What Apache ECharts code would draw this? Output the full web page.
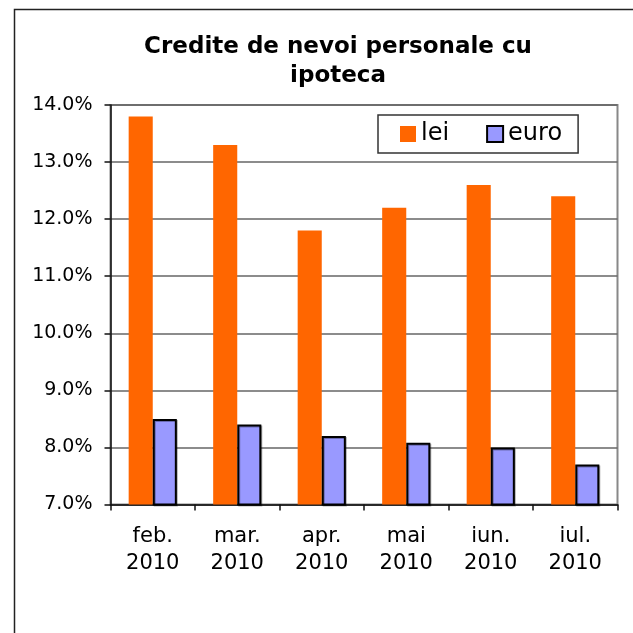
<!DOCTYPE html>
<html lang="ro">
<head>
    <meta charset="UTF-8">
    <title>Credite de nevoi personale cu ipoteca</title>
    <script src="https://cdn.jsdelivr.net/npm/echarts@6.0.0/dist/echarts.min.js"></script>
    <style>
        html, body { margin: 0; padding: 0; background: #fff; }
        #main { width: 633px; height: 633px; }
    </style>
</head>
<body>
<div id="main"></div>
<script type="text/javascript">
    // date (%)
    var luni = ['feb.\n2010', 'mar.\n2010', 'apr.\n2010', 'mai\n2010', 'iun.\n2010', 'iul.\n2010'];
    var lei = [13.8, 13.3, 11.8, 12.2, 12.6, 12.4];
    var euro = [8.5, 8.4, 8.2, 8.08, 8.0, 7.7];

    var font = 'DejaVu Sans';
    var myChart = echarts.init(document.getElementById('main'));

    var option = {
        backgroundColor: '#fff',
        animation: false,
        // chenarul exterior
        graphic: [{
            type: 'rect',
            shape: { x: 14.5, y: 9.5, width: 700, height: 700 },
            style: { fill: 'none', stroke: '#222', lineWidth: 1.5 },
            silent: true
        }],
        title: {
            text: 'Credite de nevoi personale cu\nipoteca',
            left: 338,
            top: 33,
            padding: 0,
            textAlign: 'center',
            textStyle: {
                fontFamily: font,
                fontWeight: 'bold',
                fontSize: 23,
                lineHeight: 29,
                color: '#000'
            }
        },
        legend: {
            data: ['lei', 'euro'],
            left: 378,
            top: 115,
            padding: [7, 16, 7, 22],
            itemWidth: 16,
            itemHeight: 16,
            itemGap: 37,
            icon: 'rect',
            borderColor: '#333',
            borderWidth: 1.5,
            backgroundColor: '#fff',
            textStyle: { fontFamily: font, fontSize: 24, lineHeight: 24, color: '#000' }
        },
        grid: {
            left: 110.5,
            right: 15.5,
            top: 105,
            bottom: 128.5,
            show: true,
            borderColor: '#888',
            borderWidth: 2,
            containLabel: false
        },
        xAxis: {
            type: 'category',
            data: luni,
            axisLine: { lineStyle: { color: '#111', width: 1.5 } },
            axisTick: { show: true, length: 6, lineStyle: { color: '#111', width: 1.5 } },
            axisLabel: {
                fontFamily: font,
                fontSize: 21,
                lineHeight: 27,
                color: '#000',
                margin: 19
            }
        },
        yAxis: {
            type: 'value',
            min: 7,
            max: 14,
            interval: 1,
            axisLine: { show: true, lineStyle: { color: '#111', width: 1.5 } },
            axisTick: { show: true, length: 6, lineStyle: { color: '#111', width: 1.5 } },
            axisLabel: {
                fontFamily: font,
                fontSize: 19,
                color: '#000',
                margin: 18,
                formatter: function (v) { return v.toFixed(1) + '%'; }
            },
            splitLine: { lineStyle: { color: '#666', width: 1.5 } }
        },
        series: [
            {
                name: 'lei',
                type: 'bar',
                data: lei,
                barGap: '0%',
                barCategoryGap: '43%',
                itemStyle: { color: '#ff6600' }
            },
            {
                name: 'euro',
                type: 'bar',
                data: euro,
                itemStyle: {
                    color: '#9999ff',
                    borderColor: '#000',
                    borderWidth: 2,
                    shadowColor: 'rgba(0,0,0,0.3)',
                    shadowOffsetX: 1,
                    shadowOffsetY: 1
                }
            }
        ]
    };

    myChart.setOption(option);
</script>
</body>
</html>
